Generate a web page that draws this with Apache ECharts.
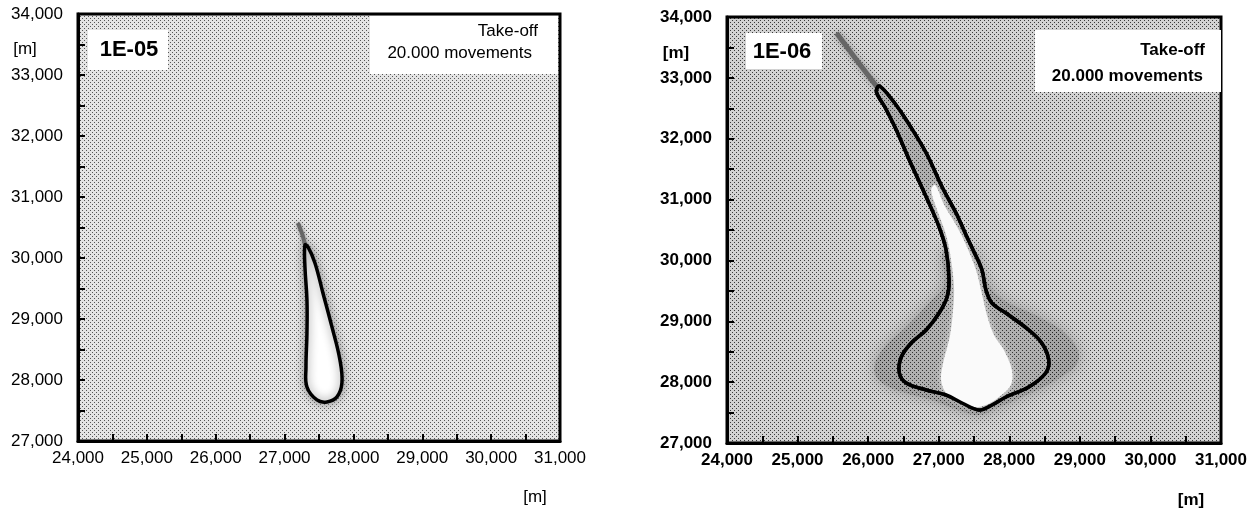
<!DOCTYPE html>
<html><head><meta charset="utf-8">
<script src="https://cdn.jsdelivr.net/npm/echarts@6/dist/echarts.min.js"></script>
<style>html,body{margin:0;padding:0;background:#fff}#c{width:1250px;height:510px}</style>
</head><body><div id="c"></div>
<script>
// ---- data (metres) ----
const panelNames = ['1E-05', '1E-06'];
const infoLines = ['Take-off', '20.000 movements'];
const xRange = [24000, 31000];
const yRange = [27000, 34000];

// Left panel (1E-05) risk contour
const leftContour = [[27296,30214],[27296,29853],[27325,29312],[27325,28772],[27311,28214],[27325,27886],[27470,27673],[27615,27641],[27761,27723],[27833,27952],[27804,28329],[27688,28870],[27557,29427],[27441,29919],[27340,30181]];
const leftTail = [[27194,30575],[27260,30380],[27300,30200]];

// Right panel (1E-06) risk contour
const rightContour = [[26159,32866],[26343,32636],[26540,32308],[26823,31765],[27048,31207],[27246,30779],[27387,30418],[27500,30138],[27613,29843],[27669,29514],[27754,29300],[27952,29136],[28276,28857],[28460,28643],[28559,28364],[28516,28150],[28276,27920],[27952,27756],[27754,27624],[27571,27542],[27331,27657],[27105,27789],[26823,27871],[26540,27986],[26442,28150],[26470,28413],[26611,28643],[26823,28857],[27006,29136],[27119,29399],[27147,29678],[27105,30171],[27006,30549],[26823,31042],[26583,31650],[26399,32143],[26244,32505],[26117,32768]];
const rightInner = [[26950,31239],[27077,30911],[27246,30582],[27387,30254],[27528,29843],[27599,29514],[27683,29103],[27782,28775],[27923,28528],[28036,28199],[28022,27953],[27853,27756],[27669,27624],[27500,27592],[27288,27673],[27105,27822],[27034,28035],[27063,28315],[27147,28692],[27190,29021],[27218,29514],[27175,30007],[27105,30418],[26978,30829],[26893,31157]];
const rightHalo = [[27500,30171],[27641,29761],[27853,29399],[28417,29070],[28841,28742],[28982,28364],[28657,28035],[28177,27756],[27853,27592],[27571,27460],[27288,27542],[26907,27707],[26540,27822],[26202,27986],[26089,28199],[26202,28528],[26540,28906],[26865,29300],[27077,29596],[27077,30171]];
const rightTail = [[25552,33737],[25835,33293],[26159,32800]];

// ---- chart ----
const FONT = '"Liberation Sans", Arial, Helvetica, sans-serif';
const fmt = v => v.toLocaleString('en-US');

function halftone(base, dot) {
  const c = document.createElement('canvas');
  c.width = 4; c.height = 4;
  const g = c.getContext('2d');
  g.fillStyle = base; g.fillRect(0, 0, 4, 4);
  g.fillStyle = dot; g.fillRect(0, 0, 1, 1); g.fillRect(2, 2, 1, 1);
  return {image:c, repeat:'repeat'};
}

function axisPair(gi, bold) {
  const lab = {color:'#000', fontSize:17, fontFamily:FONT, fontWeight: bold ? 'bold' : 'normal'};
  const tick = {show:true, inside:true, length:7, lineStyle:{color:'#000', width:2}};
  const minor = {show:true, splitNumber:2, length:7, lineStyle:{color:'#000', width:2}};
  const line = {show:true, lineStyle:{color:'#000', width:3}};
  return {
    x: {type:'value', gridIndex:gi, min:xRange[0], max:xRange[1], interval:1000,
        axisLine:line, axisTick:tick, minorTick:minor, splitLine:{show:false},
        axisLabel:Object.assign({margin:9, formatter:fmt}, lab)},
    y: {type:'value', gridIndex:gi, min:yRange[0], max:yRange[1], interval:1000,
        axisLine:line, axisTick:tick, minorTick:minor, splitLine:{show:false},
        axisLabel:Object.assign({margin:15, formatter:fmt}, lab)}
  };
}
const a0 = axisPair(0, false), a1 = axisPair(1, true);

function shape(gi, pts, kind, style, z, smooth) {
  return {
    type:'custom', xAxisIndex:gi, yAxisIndex:gi, z:z, silent:true, clip:true,
    animation:false, data:pts,
    renderItem:function(params, api){
      if (params.dataIndex !== 0) return null;
      const points = pts.map(p => api.coord(p));
      return {type:kind, shape:{points:points, smooth:smooth}, style:style};
    }
  };
}

function textEl(x, y, txt, size, bold, align) {
  return {type:'text', x:x, y:y, z:100,
    style:{text:txt, fill:'#000', font:(bold?'bold ':'')+size+'px '+FONT, textAlign:align||'left', textVerticalAlign:'middle'}};
}
function boxEl(x, y, w, h) {
  return {type:'rect', z:90, shape:{x:x, y:y, width:w, height:h}, style:{fill:'#fff'}};
}

const chart = echarts.init(document.getElementById('c'), null, {renderer:'canvas'});
chart.setOption({
  animation:false,
  backgroundColor:'#fff',
  grid:[
    {left:78, top:14, width:482, height:427, show:true, backgroundColor:halftone('#e4e4e4', '#555'), borderColor:'#000', borderWidth:3},
    {left:727, top:17, width:496, height:426, show:true, backgroundColor:halftone('#d2d2d2', '#3a3a3a'), borderColor:'#000', borderWidth:3}
  ],
  xAxis:[a0.x, a1.x],
  yAxis:[a0.y, a1.y],
  series:[
    shape(0, leftTail, 'polyline', {stroke:'#666', lineWidth:4, fill:null, shadowBlur:4, shadowColor:'#888'}, 3, 0.3),
    shape(0, leftContour, 'polygon', {fill:'#fff', stroke:'#000', lineWidth:3.5, shadowBlur:10, shadowColor:'#8a8a8a'}, 4, 0.4),
    shape(1, rightHalo, 'polygon', {fill:halftone('#a4a4a4', '#222'), shadowBlur:16, shadowColor:'#959595'}, 2, 0.4),
    shape(1, rightTail, 'polyline', {stroke:'#666', lineWidth:5, fill:null, shadowBlur:6, shadowColor:'#888'}, 3, 0.3),
    shape(1, rightContour, 'polygon', {fill:halftone('#b0b0b0', '#333'), stroke:'#000', lineWidth:3.5}, 4, 0.35),
    shape(1, rightInner, 'polygon', {fill:'#fafafa', shadowBlur:6, shadowColor:'#ddd'}, 5, 0.35),
    shape(1, rightContour, 'polygon', {fill:null, stroke:'#000', lineWidth:3.5}, 6, 0.35)
  ],
  graphic:[
    textEl(25, 49, '[m]', 17, false, 'center'),
    textEl(676, 53, '[m]', 17, true, 'center'),
    textEl(535, 497, '[m]', 17, false, 'center'),
    textEl(1191, 500, '[m]', 17, true, 'center'),
    boxEl(88, 30, 80, 40),
    textEl(129, 50, panelNames[0], 22, true, 'center'),
    boxEl(746, 33, 76, 36),
    textEl(782, 52, panelNames[1], 22, true, 'center'),
    boxEl(370, 16, 188, 58),
    textEl(538, 31, infoLines[0], 17, false, 'right'),
    textEl(532, 53, infoLines[1], 17, false, 'right'),
    boxEl(1035, 30, 186, 62),
    textEl(1205, 50, infoLines[0], 17, true, 'right'),
    textEl(1203, 76, infoLines[1], 17, true, 'right')
  ]
});
</script>
</body></html>
